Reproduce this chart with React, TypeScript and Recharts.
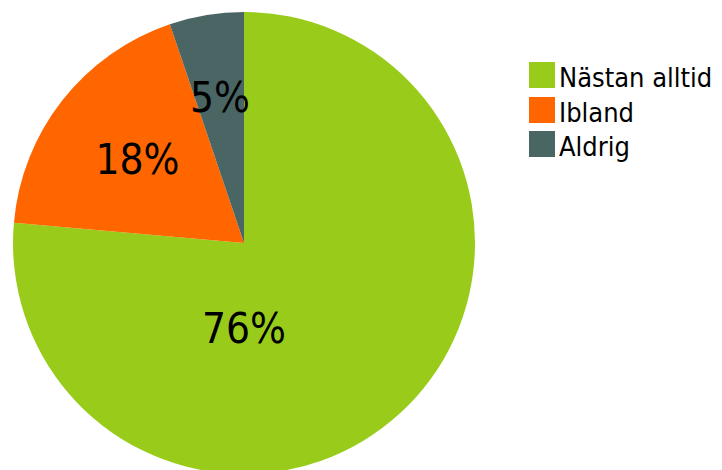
import React from "react";
import { PieChart, Pie, Cell, Legend } from "recharts";

const categories = ["Nästan alltid", "Ibland", "Aldrig"];
const shares = [76.4, 18.4, 5.2];
const colors = ["#99CC1A", "#FF6600", "#4A6664"];

const data = categories.map((name, i) => ({ name, value: shares[i] }));

const FONT = "'DejaVu Sans Condensed', 'DejaVu Sans', sans-serif";
const RAD = Math.PI / 180;

const renderLabel = (props: any) => {
  const { cx, cy, midAngle, outerRadius, percent, value } = props;
  let x: number;
  let y: number;
  if (percent > 0.5) {
    x = cx;
    y = cy + outerRadius * 0.37;
  } else {
    const r = outerRadius * (0.66 - 0.4 * percent);
    x = cx + r * Math.cos(-midAngle * RAD);
    y = cy + r * Math.sin(-midAngle * RAD);
  }
  return (
    <text
      x={x}
      y={y}
      dy={15}
      textAnchor="middle"
      fill="#000"
      style={{ fontFamily: FONT, fontSize: 42, fontStretch: "condensed" }}
    >
      {Math.round(value)}%
    </text>
  );
};

const renderLegend = () => {
  return (
    <div style={{ position: "relative", width: 190, height: 110 }}>
      {categories.map((name, i) => (
        <div key={name}>
          <div
            style={{
              position: "absolute",
              left: 0,
              top: i * 34.5,
              width: 26,
              height: 26,
              background: colors[i],
            }}
          />
          <div
            style={{
              position: "absolute",
              left: 30,
              top: i * 34.5 + 2,
              fontFamily: FONT,
              fontStretch: "condensed",
              fontSize: 27,
              lineHeight: 1,
              color: "#000",
              whiteSpace: "nowrap",
            }}
          >
            {name}
          </div>
        </div>
      ))}
    </div>
  );
};

export default function App() {
  return (
    <div style={{ position: "absolute", left: 0, top: 0, width: 722, height: 470, background: "#fff" }}>
      <PieChart width={722} height={470} margin={{ top: 0, right: 0, bottom: 0, left: 0 }}>
        <Pie
          data={data}
          dataKey="value"
          nameKey="name"
          cx={244}
          cy={243}
          outerRadius={231}
          startAngle={90}
          endAngle={-270}
          stroke="none"
          label={renderLabel}
          labelLine={false}
          isAnimationActive={false}
        >
          {data.map((d, i) => (
            <Cell key={d.name} fill={colors[i]} />
          ))}
        </Pie>
        <Legend
          content={renderLegend}
          layout="vertical"
          wrapperStyle={{ position: "absolute", left: 529, top: 62, width: 190 }}
        />
      </PieChart>
    </div>
  );
}
